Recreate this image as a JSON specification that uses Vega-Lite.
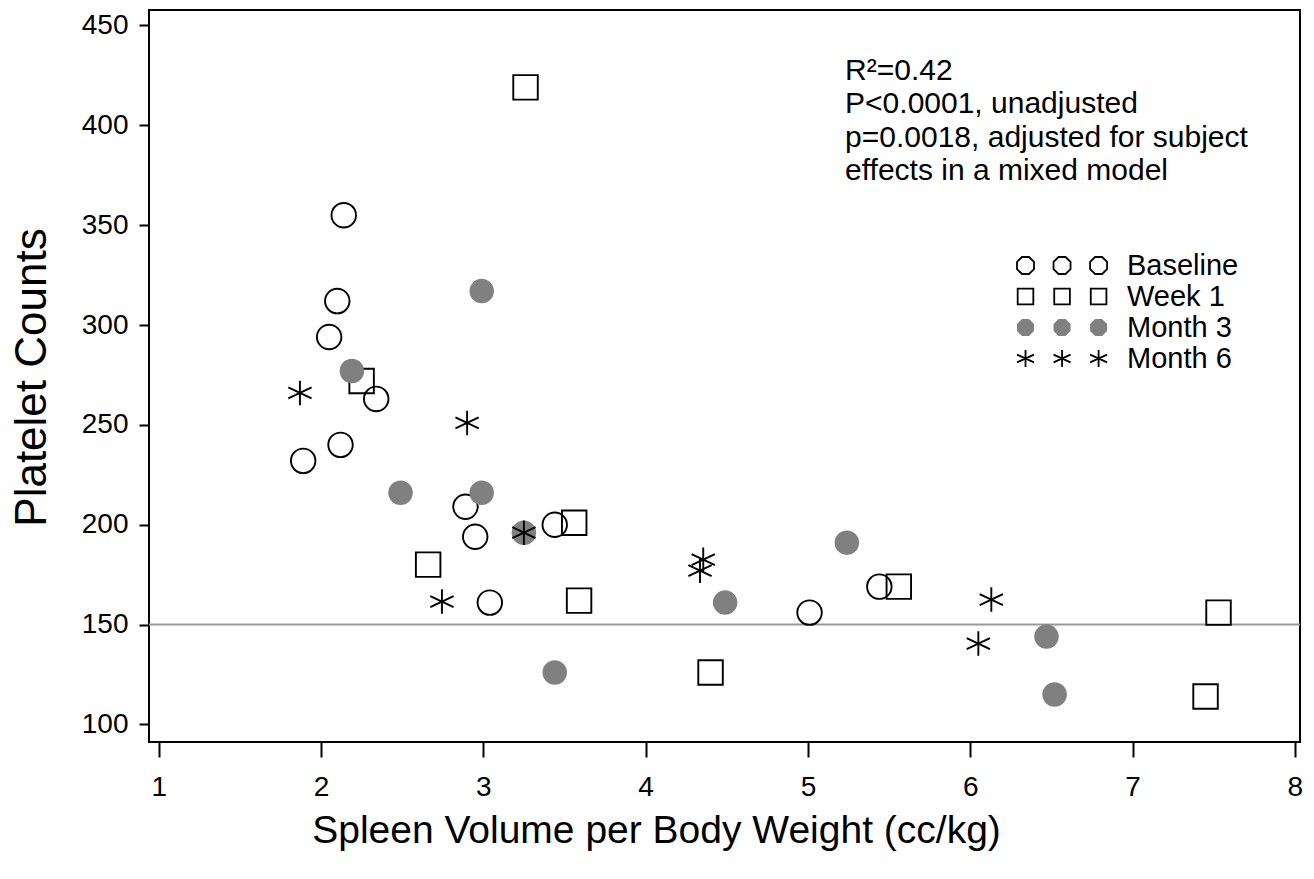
{
  "$schema": "https://vega.github.io/schema/vega-lite/v6.json",
  "width": 1151,
  "height": 732,
  "autosize": {"type": "none"},
  "padding": {"left": 149, "top": 10, "right": 14, "bottom": 137},
  "background": "white",
  "config": {
    "font": "Liberation Sans",
    "view": {"stroke": "black", "strokeWidth": 2},
    "axis": {
      "grid": false,
      "domain": false,
      "tickColor": "black",
      "tickWidth": 2,
      "labelColor": "black",
      "labelFont": "Liberation Sans",
      "labelFontSize": 28,
      "titleColor": "black",
      "titleFont": "Liberation Sans",
      "titleFontWeight": "normal"
    }
  },
  "data": {
    "values": [
      {"spleen": 2.14, "platelets": 355, "visit": "Baseline"},
      {"spleen": 2.10, "platelets": 312, "visit": "Baseline"},
      {"spleen": 2.05, "platelets": 294, "visit": "Baseline"},
      {"spleen": 2.34, "platelets": 263, "visit": "Baseline"},
      {"spleen": 2.12, "platelets": 240, "visit": "Baseline"},
      {"spleen": 1.89, "platelets": 232, "visit": "Baseline"},
      {"spleen": 2.89, "platelets": 209, "visit": "Baseline"},
      {"spleen": 2.95, "platelets": 194, "visit": "Baseline"},
      {"spleen": 3.44, "platelets": 200, "visit": "Baseline"},
      {"spleen": 3.04, "platelets": 161, "visit": "Baseline"},
      {"spleen": 5.01, "platelets": 156, "visit": "Baseline"},
      {"spleen": 5.44, "platelets": 169, "visit": "Baseline"},
      {"spleen": 3.26, "platelets": 419, "visit": "Week 1"},
      {"spleen": 2.25, "platelets": 272, "visit": "Week 1"},
      {"spleen": 2.66, "platelets": 180, "visit": "Week 1"},
      {"spleen": 3.56, "platelets": 201, "visit": "Week 1"},
      {"spleen": 3.59, "platelets": 162, "visit": "Week 1"},
      {"spleen": 4.40, "platelets": 126, "visit": "Week 1"},
      {"spleen": 5.56, "platelets": 169, "visit": "Week 1"},
      {"spleen": 7.53, "platelets": 156, "visit": "Week 1"},
      {"spleen": 7.45, "platelets": 114, "visit": "Week 1"},
      {"spleen": 2.99, "platelets": 317, "visit": "Month 3"},
      {"spleen": 2.19, "platelets": 277, "visit": "Month 3"},
      {"spleen": 2.49, "platelets": 216, "visit": "Month 3"},
      {"spleen": 2.99, "platelets": 216, "visit": "Month 3"},
      {"spleen": 3.25, "platelets": 196, "visit": "Month 3"},
      {"spleen": 3.44, "platelets": 126, "visit": "Month 3"},
      {"spleen": 4.49, "platelets": 161, "visit": "Month 3"},
      {"spleen": 5.24, "platelets": 191, "visit": "Month 3"},
      {"spleen": 6.47, "platelets": 144, "visit": "Month 3"},
      {"spleen": 6.52, "platelets": 115, "visit": "Month 3"},
      {"spleen": 1.87, "platelets": 266, "visit": "Month 6"},
      {"spleen": 2.90, "platelets": 251, "visit": "Month 6"},
      {"spleen": 3.25, "platelets": 196, "visit": "Month 6"},
      {"spleen": 2.745, "platelets": 161.5, "visit": "Month 6"},
      {"spleen": 4.355, "platelets": 182.5, "visit": "Month 6"},
      {"spleen": 4.335, "platelets": 177, "visit": "Month 6"},
      {"spleen": 6.13, "platelets": 162.5, "visit": "Month 6"},
      {"spleen": 6.05, "platelets": 140.5, "visit": "Month 6"}
    ]
  },
  "resolve": {"scale": {"shape": "independent", "fill": "independent", "stroke": "independent"}},
  "layer": [
    {
      "data": {"values": [{}]},
      "mark": {"type": "rule", "color": "#999999", "strokeWidth": 2},
      "encoding": {"y": {"datum": 150}}
    },
    {
      "mark": {"type": "point", "opacity": 1, "strokeWidth": 1.9, "size": 600},
      "encoding": {
        "x": {
          "field": "spleen",
          "type": "quantitative",
          "scale": {"domain": [0.94, 8.032], "nice": false, "zero": false},
          "axis": {
            "title": "Spleen Volume per Body Weight (cc/kg)",
            "values": [1, 2, 3, 4, 5, 6, 7, 8],
            "format": "d",
            "tickSize": 15,
            "labelPadding": 16,
            "titleFontSize": 39,
            "titleBaseline": "alphabetic",
            "titleAlign": "center",
            "titleX": 507,
            "titleY": 100
          }
        },
        "y": {
          "field": "platelets",
          "type": "quantitative",
          "scale": {"domain": [91.2, 457.76], "nice": false, "zero": false},
          "axis": {
            "title": "Platelet Counts",
            "values": [100, 150, 200, 250, 300, 350, 400, 450],
            "format": "d",
            "tickSize": 10,
            "labelPadding": 11,
            "titleFontSize": 44,
            "titleAngle": -90,
            "titleBaseline": "alphabetic",
            "titleAlign": "center",
            "titleX": -104,
            "titleY": 367
          }
        },
        "shape": {
          "field": "visit",
          "type": "nominal",
          "scale": {
            "domain": ["Baseline", "Week 1", "Month 3", "Month 6"],
            "range": ["circle", "square", "circle", "M0,-1V1M-0.95,-0.45L0.95,0.45M-0.95,0.45L0.95,-0.45"]
          },
          "legend": null
        },
        "fill": {
          "field": "visit",
          "type": "nominal",
          "scale": {
            "domain": ["Baseline", "Week 1", "Month 3", "Month 6"],
            "range": ["transparent", "transparent", "#808080", "transparent"]
          },
          "legend": null
        },
        "stroke": {
          "field": "visit",
          "type": "nominal",
          "scale": {
            "domain": ["Baseline", "Week 1", "Month 3", "Month 6"],
            "range": ["black", "black", "transparent", "black"]
          },
          "legend": null
        }
      }
    },
    {
      "data": {"values": []},
      "mark": {"type": "point", "opacity": 1, "strokeWidth": 1.8},
      "encoding": {
        "x": {"field": "spleen", "type": "quantitative"},
        "y": {"field": "platelets", "type": "quantitative"},
        "shape": {
          "field": "visit",
          "type": "nominal",
          "scale": {
            "domain": ["Baseline", "Week 1", "Month 3", "Month 6"],
            "range": [
              "M1,0.414L0.414,1L-0.414,1L-1,0.414L-1,-0.414L-0.414,-1L0.414,-1L1,-0.414ZM5.3,0.414L4.714,1L3.886,1L3.3,0.414L3.3,-0.414L3.886,-1L4.714,-1L5.3,-0.414ZM9.6,0.414L9.014,1L8.186,1L7.6,0.414L7.6,-0.414L8.186,-1L9.014,-1L9.6,-0.414Z",
              "M-0.92,-0.92H0.92V0.92H-0.92ZM3.38,-0.92H5.22V0.92H3.38ZM7.68,-0.92H9.52V0.92H7.68Z",
              "M1,0.414L0.414,1L-0.414,1L-1,0.414L-1,-0.414L-0.414,-1L0.414,-1L1,-0.414ZM5.3,0.414L4.714,1L3.886,1L3.3,0.414L3.3,-0.414L3.886,-1L4.714,-1L5.3,-0.414ZM9.6,0.414L9.014,1L8.186,1L7.6,0.414L7.6,-0.414L8.186,-1L9.014,-1L9.6,-0.414Z",
              "M0,-1V1M-1,-0.45L1,0.45M-1,0.45L1,-0.45M4.3,-1V1M3.3,-0.45L5.3,0.45M3.3,0.45L5.3,-0.45M8.6,-1V1M7.6,-0.45L9.6,0.45M7.6,0.45L9.6,-0.45"
            ]
          },
          "legend": {
            "title": null,
            "orient": "none",
            "legendX": 862,
            "legendY": 241,
            "padding": 0,
            "labelFont": "Liberation Sans",
            "labelFontSize": 29,
            "labelColor": "black",
            "labelOffset": 87,
            "rowPadding": 1,
            "symbolSize": 289,
            "symbolStrokeWidth": 1.8
          }
        },
        "fill": {
          "field": "visit",
          "type": "nominal",
          "scale": {
            "domain": ["Baseline", "Week 1", "Month 3", "Month 6"],
            "range": ["transparent", "transparent", "#808080", "transparent"]
          }
        },
        "stroke": {
          "field": "visit",
          "type": "nominal",
          "scale": {
            "domain": ["Baseline", "Week 1", "Month 3", "Month 6"],
            "range": ["black", "black", "transparent", "black"]
          }
        }
      }
    },
    {
      "data": {"values": [{}]},
      "mark": {
        "type": "text",
        "align": "left",
        "baseline": "alphabetic",
        "font": "Liberation Sans",
        "fontSize": 30,
        "lineHeight": 33.4,
        "color": "black"
      },
      "encoding": {
        "x": {"datum": 5.229},
        "y": {"datum": 422.7},
        "text": {"value": ["R²=0.42", "P<0.0001, unadjusted", "p=0.0018, adjusted for subject", "effects in a mixed model"]}
      }
    }
  ]
}
